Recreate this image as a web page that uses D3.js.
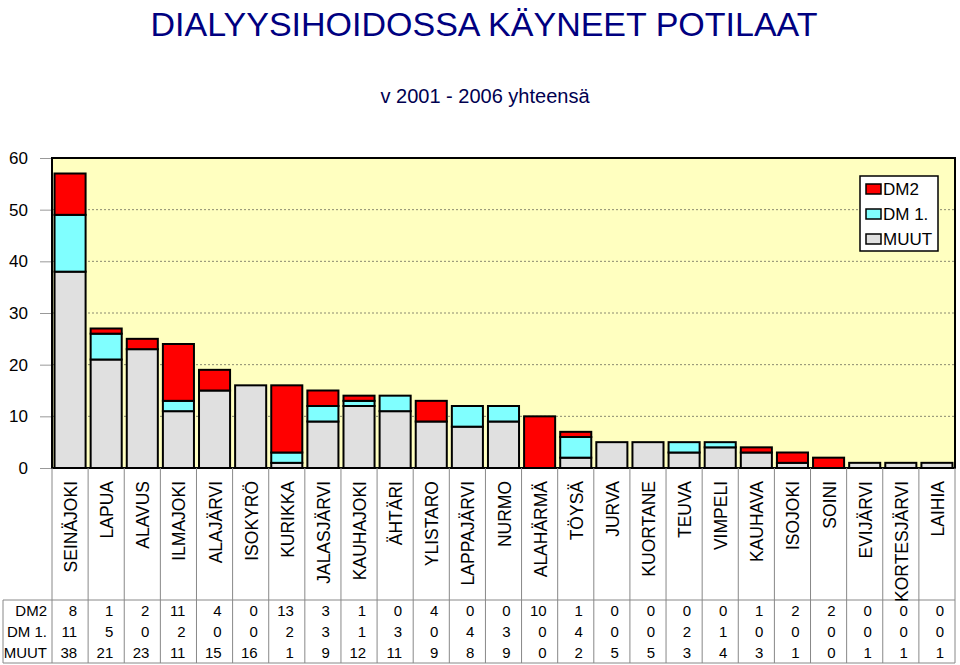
<!DOCTYPE html>
<html><head><meta charset="utf-8">
<script src="https://cdn.jsdelivr.net/npm/d3@7"></script>
<style>body{margin:0;background:#fff}svg{display:block}text{font-family:"Liberation Sans",Arial,sans-serif}</style>
</head><body>
<svg id="c" width="960" height="665"></svg>
<script>
const categories = ["SEINÄJOKI","LAPUA","ALAVUS","ILMAJOKI","ALAJÄRVI","ISOKYRÖ","KURIKKA","JALASJÄRVI","KAUHAJOKI","ÄHTÄRI","YLISTARO","LAPPAJÄRVI","NURMO","ALAHÄRMÄ","TÖYSÄ","JURVA","KUORTANE","TEUVA","VIMPELI","KAUHAVA","ISOJOKI","SOINI","EVIJÄRVI","KORTESJÄRVI","LAIHIA"];
const dm2  = [8,1,2,11,4,0,13,3,1,0,4,0,0,10,1,0,0,0,0,1,2,2,0,0,0];
const dm1  = [11,5,0,2,0,0,2,3,1,3,0,4,3,0,4,0,0,2,1,0,0,0,0,0,0];
const muut = [38,21,23,11,15,16,1,9,12,11,9,8,9,0,2,5,5,3,4,3,1,0,1,1,1];
const seriesNames = ["DM2","DM 1.","MUUT"];
const yTicks = [0,10,20,30,40,50,60];
const title = "DIALYYSIHOIDOSSA KÄYNEET POTILAAT";
const subtitle = "v 2001 - 2006 yhteensä";

const colors = {"MUUT":"#E0E0E0","DM 1.":"#80FFFF","DM2":"#FF0000"};
const svg = d3.select("#c");
const L = 52, R = 955, T = 158, B = 468;

svg.append("text").attr("x",484).attr("y",36).attr("text-anchor","middle")
  .attr("font-size",34).attr("fill","#000080").text(title);
svg.append("text").attr("x",485).attr("y",103).attr("text-anchor","middle")
  .attr("font-size",20).attr("fill","#000050").text(subtitle);

const x = d3.scaleBand().domain(categories).range([L,R]).paddingInner(0.14).paddingOuter(0.07);
const xb = d3.scaleBand().domain(categories).range([L,R]);
const y = d3.scaleLinear().domain([0,60]).range([B,T]);

svg.append("rect").attr("x",L).attr("y",T).attr("width",R-L).attr("height",B-T).attr("fill","#FFFFC0");
svg.append("g").selectAll("line").data(yTicks.filter(d=>d>0&&d<60)).join("line")
  .attr("x1",L).attr("x2",R).attr("y1",d=>y(d)).attr("y2",d=>y(d))
  .attr("stroke","#8a8a70").attr("stroke-dasharray","2,2").attr("stroke-width",1);

// y axis
const ya = svg.append("g").attr("transform",`translate(${L},0)`)
  .call(d3.axisLeft(y).tickValues(yTicks).tickSize(12).tickPadding(12));
ya.select(".domain").remove();
ya.selectAll(".tick line").attr("stroke","#999");
ya.selectAll(".tick text").attr("font-size",17).attr("fill","#000").attr("font-family","Liberation Sans, Arial, sans-serif");

// stacked bars
const rows = categories.map((c,i)=>({cat:c,"MUUT":muut[i],"DM 1.":dm1[i],"DM2":dm2[i]}));
const stack = d3.stack().keys(["MUUT","DM 1.","DM2"])(rows);
svg.append("g").selectAll("g").data(stack).join("g").attr("fill",d=>colors[d.key])
  .selectAll("rect").data(d=>d.filter(p=>p[1]>p[0])).join("rect")
  .attr("x",d=>x(d.data.cat)).attr("width",x.bandwidth())
  .attr("y",d=>y(d[1])).attr("height",d=>y(d[0])-y(d[1]))
  .attr("stroke","#000").attr("stroke-width",2);

// plot frame
svg.append("rect").attr("x",L).attr("y",T).attr("width",R-L).attr("height",B-T)
  .attr("fill","none").attr("stroke","#000").attr("stroke-width",2);

// legend
const lg = svg.append("g");
lg.append("rect").attr("x",860).attr("y",176).attr("width",78).attr("height",75)
  .attr("fill","#fff").attr("stroke","#000").attr("stroke-width",1.5);
seriesNames.forEach((s,i)=>{
  const yy = 189 + i*25;
  lg.append("rect").attr("x",866).attr("y",yy-5).attr("width",15).attr("height",10)
    .attr("fill",colors[s]).attr("stroke","#000").attr("stroke-width",1.5);
  lg.append("text").attr("x",883).attr("y",yy+6).attr("font-size",17).attr("fill","#000").text(s);
});

// table
const tg = svg.append("g");
const tTop = 600, tBot = 663;
tg.selectAll("line.v").data(categories).join("line")
  .attr("x1",d=>xb(d)+xb.bandwidth()).attr("x2",d=>xb(d)+xb.bandwidth())
  .attr("y1",B).attr("y2",tBot).attr("stroke","#888").attr("stroke-width",1);
tg.append("line").attr("x1",L).attr("x2",L).attr("y1",B).attr("y2",tBot).attr("stroke","#888");
tg.append("line").attr("x1",3).attr("x2",3).attr("y1",tTop).attr("y2",tBot).attr("stroke","#888");
tg.append("line").attr("x1",3).attr("x2",R).attr("y1",tTop).attr("y2",tTop).attr("stroke","#888");
tg.append("line").attr("x1",3).attr("x2",R).attr("y1",tBot).attr("y2",tBot).attr("stroke","#888");

tg.selectAll("text.cat").data(categories).join("text")
  .attr("transform",d=>`translate(${xb(d)+xb.bandwidth()/2+7},481) rotate(-90)`)
  .attr("text-anchor","end").attr("font-size",17.5).attr("fill","#000").text(d=>d);

const tableRows = [["DM2",dm2],["DM 1.",dm1],["MUUT",muut]];
tableRows.forEach(([name,vals],r)=>{
  const yy = 616 + r*21;
  tg.append("text").attr("x",47).attr("y",yy).attr("text-anchor","end").attr("font-size",15).text(name);
  tg.selectAll(null).data(vals).join("text")
    .attr("x",(d,i)=>xb(categories[i])+xb.bandwidth()-11).attr("y",yy)
    .attr("text-anchor","end").attr("font-size",15).text(d=>d);
});
</script>
</body></html>
